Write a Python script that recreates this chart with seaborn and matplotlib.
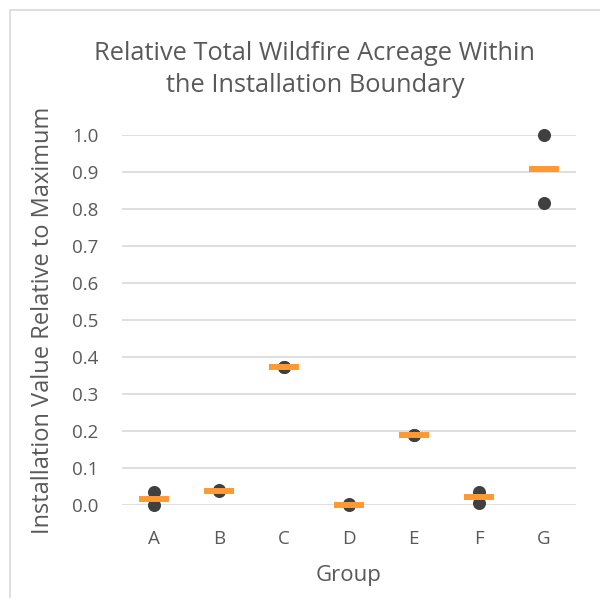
import matplotlib
matplotlib.use("Agg")
import matplotlib.pyplot as plt
import seaborn as sns
import pandas as pd

groups = ["A", "B", "C", "D", "E", "F", "G"]
first_values = [0.035, 0.040, 0.372, 0.000, 0.190, 0.035, 1.000]
second_values = [0.000, 0.038, 0.373, 0.002, 0.188, 0.006, 0.817]
yticks = [0.0, 0.1, 0.2, 0.3, 0.4, 0.5, 0.6, 0.7, 0.8, 0.9, 1.0]

df = pd.DataFrame({
    "Group": groups * 2,
    "Value": first_values + second_values,
})

sns.set_theme(style="white")
plt.rcParams["font.family"] = ["Open Sans", "DejaVu Sans"]
txt = "#595959"

fig = plt.figure(figsize=(6.0, 5.98), dpi=100)
ax = fig.add_axes([0.203, 0.1555, 0.757, 0.6187])

sns.stripplot(data=df, x="Group", y="Value", order=groups, jitter=False,
              color="#404040", size=9.4, linewidth=0, ax=ax, zorder=3)
sns.pointplot(data=df, x="Group", y="Value", order=groups, estimator="mean",
              errorbar=None, linestyle="none", marker="_", color="#FF9933",
              markersize=21, markeredgewidth=4.3, ax=ax, zorder=4)
for c in ax.collections:
    c.set_clip_on(False)
for l in ax.lines:
    l.set_clip_on(False)

ax.set_xlim(-0.5, 6.5)
ax.set_ylim(0, 1.0)
ax.set_yticks(yticks)
ax.set_yticklabels([f"{v:.1f}" for v in yticks], color=txt, fontsize=13.5)
ax.set_xticks(range(len(groups)))
ax.set_xticklabels(groups, color=txt, fontsize=13.5)
ax.tick_params(axis="y", length=0, pad=17)
ax.tick_params(axis="x", length=0, pad=18)
ax.grid(axis="y", color="#D9D9D9", linewidth=1.2, zorder=0)
ax.set_axisbelow(True)
for s in ax.spines.values():
    s.set_visible(False)

ax.set_xlabel("Group", color=txt, fontsize=16, labelpad=12)
ax.set_ylabel("Installation Value Relative to Maximum", color=txt, fontsize=17, labelpad=12)

fig.text(0.525, 0.884, "Relative Total Wildfire Acreage Within\nthe Installation Boundary",
         ha="center", va="center", color=txt, fontsize=18.3, linespacing=1.35)

# chart border
border = plt.Rectangle((0.017, -0.01), 1.0, 0.993, transform=fig.transFigure,
                       fill=False, edgecolor="#D9D9D9", linewidth=1.2)
fig.add_artist(border)

fig.savefig("out.png", dpi=100, facecolor="white")
